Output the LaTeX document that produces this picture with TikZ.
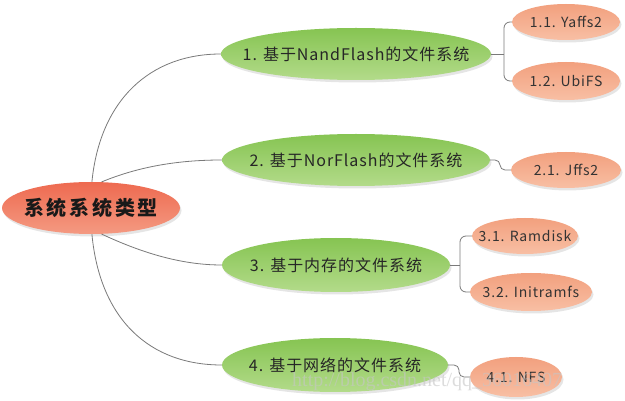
\documentclass[tikz,border=0pt]{standalone}
\usepackage{fontspec}
\setmainfont{Noto Sans CJK SC}
\newfontfamily\cjk[LetterSpace=6]{Noto Sans CJK SC}
\newfontfamily\cjkroot[LetterSpace=14]{Noto Sans CJK SC}
\newfontfamily\wmfont{Liberation Serif}
\usetikzlibrary{shapes.geometric,shadows,calc}
\definecolor{linegray}{HTML}{7A7A7A}
\definecolor{rootmid}{HTML}{EF5638}
\definecolor{roottop}{HTML}{EE6A50}
\definecolor{rootbot}{HTML}{F49A82}
\definecolor{grnmid}{HTML}{8DC957}
\definecolor{grntop}{HTML}{86C452}
\definecolor{grnbot}{HTML}{B3DB8A}
\definecolor{ormid}{HTML}{F59E7A}
\definecolor{ortop}{HTML}{F2A07E}
\definecolor{orbot}{HTML}{F8BFA4}
\tikzset{
  gloss/.style={path picture={
    \path let \p1=(path picture bounding box.north east),
              \p2=(path picture bounding box.south west) in
      [fill=white,fill opacity=.5]
      ($(path picture bounding box.north)+(0,{0.2*(\y1-\y2)})$)
      ellipse ({0.38*(\x1-\x2)} and {0.12*(\y1-\y2)});
  }},
  bubble/.style={ellipse, inner sep=0pt, gloss,
    drop shadow={shadow xshift=1.5pt, shadow yshift=-2.5pt, opacity=.2}},
  rootnode/.style={bubble, top color=roottop, middle color=rootmid, bottom color=rootbot,
    label={[font=\cjkroot\bfseries\fontsize{20}{22}\selectfont, text=black!90, inner sep=0pt]center:#1}},
  mainnode/.style={bubble, top color=grntop, middle color=grnmid, bottom color=grnbot,
    label={[font=\cjk\fontsize{16}{18}\selectfont, text=black!85, inner sep=0pt]center:#1}},
  leafnode/.style={bubble, top color=ortop, middle color=ormid, bottom color=orbot,
    label={[font=\cjk\fontsize{14}{16}\selectfont, text=black!80, inner sep=0pt]center:#1}},
  conn/.style={draw=linegray, line width=0.8pt},
}
\begin{document}
\begin{tikzpicture}[x=1pt,y=-1pt]
\useasboundingbox (0,0) rectangle (625,401);
\fill[white] (0,0) rectangle (625,401);

\coordinate (j1) at (504,54);
\coordinate (j2) at (500,160);
\coordinate (j3) at (460,265);
\coordinate (j4) at (459,365);

\node[rootnode={系统系统类型}, minimum width=178pt, minimum height=52pt] (root) at (91,208) {};

\node[mainnode={1. 基于NandFlash的文件系统}, minimum width=270pt, minimum height=52pt] (n1) at (356,54) {};
\node[mainnode={2. 基于NorFlash的文件系统}, minimum width=268pt, minimum height=52pt] (n2) at (356,160) {};
\node[mainnode={3. 基于内存的文件系统}, minimum width=228pt, minimum height=54pt] (n3) at (336,265) {};
\node[mainnode={4. 基于网络的文件系统}, minimum width=226pt, minimum height=54pt] (n4) at (335,365) {};

\node[leafnode={1.1. Yaffs2}, minimum width=108pt, minimum height=36pt] (c11) at (566,22) {};
\node[leafnode={1.2. UbiFS}, minimum width=108pt, minimum height=38pt] (c12) at (566,81) {};
\node[leafnode={2.1. Jffs2}, minimum width=110pt, minimum height=36pt] (c21) at (566,170) {};
\node[leafnode={3.1. Ramdisk}, minimum width=106pt, minimum height=36pt] (c31) at (525,236) {};
\node[leafnode={3.2. Initramfs}, minimum width=122pt, minimum height=38pt] (c32) at (531,292) {};
\node[leafnode={4.1. NFS}, minimum width=92pt, minimum height=40pt] (c41) at (516,377) {};

\draw[conn] (root.88) .. controls (100,100) and (150,54) .. (n1.west);
\draw[conn] (root.68) .. controls (140,166) and (180,160) .. (n2.west);
\draw[conn] (root.-68) .. controls (140,252) and (180,265) .. (n3.west);
\draw[conn] (root.-88) .. controls (100,320) and (150,365) .. (n4.west);

\draw[conn] (n1.east) -- (j1);
\draw[conn, rounded corners=6pt] (c11.west) -| (j1) |- (c12.west);
\draw[conn, rounded corners=5pt] (n2.east) -- (j2) |- (c21.west);
\draw[conn] (n3.east) -- (j3);
\draw[conn, rounded corners=6pt] (c31.west) -| (j3) |- (c32.west);
\draw[conn, rounded corners=5pt] (n4.east) -- (j4) |- (c41.west);

\node[anchor=west, inner sep=0pt, text=gray!45, opacity=.6, font=\wmfont\fontsize{20}{22}\selectfont] (wm) at (292,382) {http://blog.csdn.net/qq\_36016407};
\end{tikzpicture}
\end{document}
